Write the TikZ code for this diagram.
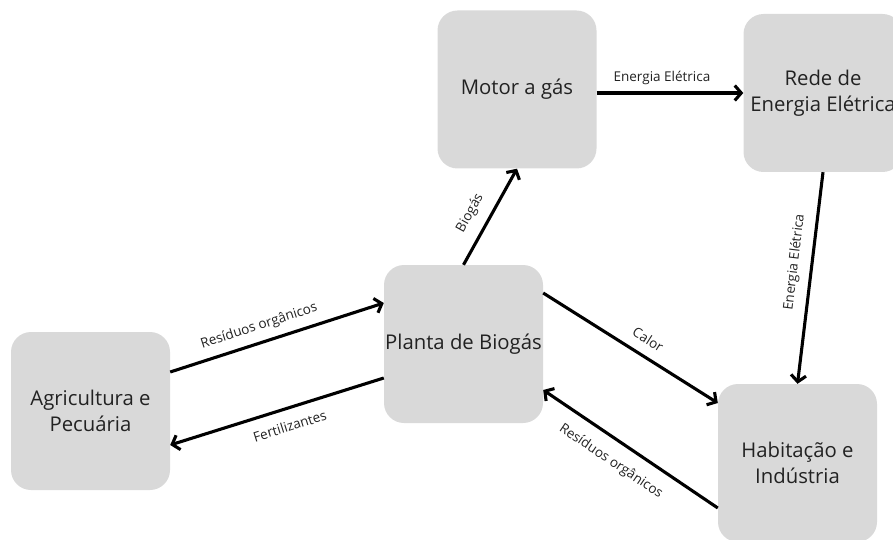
\documentclass[tikz,border=0pt]{standalone}
\usepackage{fontspec}
\setmainfont{Open Sans}
\usetikzlibrary{arrows.meta}
\definecolor{boxgray}{HTML}{D9D9D9}
\definecolor{txt}{HTML}{222222}
\begin{document}
\begin{tikzpicture}[x=1pt,y=-1pt,
  box/.style={fill=boxgray, rounded corners=20pt, minimum width=159pt,
    minimum height=158pt, align=center, inner sep=0pt, text=txt,
    font=\fontsize{20.3}{26.5}\selectfont},
  flow/.style={line width=3.1pt, -{Straight Barb[length=6.5pt,width=15pt]}},
  lbl/.style={font=\fontsize{13.5}{16}\selectfont, text=txt, sloped, inner sep=2pt}
]
\useasboundingbox (0,0) rectangle (893,540);

% process blocks
\node[box] (agri)   at (90.5,411) {Agricultura e\\Pecuária};
\node[box] (planta) at (463.5,344) {Planta de Biogás};
\node[box] (motor)  at (517,89.5) {Motor a gás};
\node[box] (rede)   at (823,93)   {Rede de\\Energia Elétrica};
\node[box] (hab)    at (797.5,463) {Habitação e\\Indústria};

% material and energy flows
\draw[flow] ([yshift=39pt]agri.east) -- node[lbl, pos=0.44, above=6pt] {Resíduos orgânicos} ([yshift=41pt]planta.west);
\draw[flow] ([yshift=-34pt]planta.west) -- node[lbl, pos=0.465, below=9pt] {Fertilizantes} ([yshift=-34pt]agri.east);
\draw[flow] (planta.north) -- node[lbl, pos=0.44, above=9pt] {Biogás} (motor.south);
\draw[flow] ([yshift=-3.5pt]motor.east) -- node[lbl, pos=0.445, above=5pt] {Energia Elétrica} (rede.west);
\draw[flow] (rede.south) -- node[lbl, pos=0.435, above=7pt] {Energia Elétrica} (hab.north);
\draw[flow] ([yshift=51pt]planta.east) -- node[lbl, pos=0.55, above=8pt] {Calor} ([yshift=60pt]hab.west);
\draw[flow] ([yshift=-45pt]hab.west) -- node[lbl, pos=0.544, below=11pt] {Resíduos orgânicos} ([yshift=-46pt]planta.east);
\end{tikzpicture}
\end{document}
